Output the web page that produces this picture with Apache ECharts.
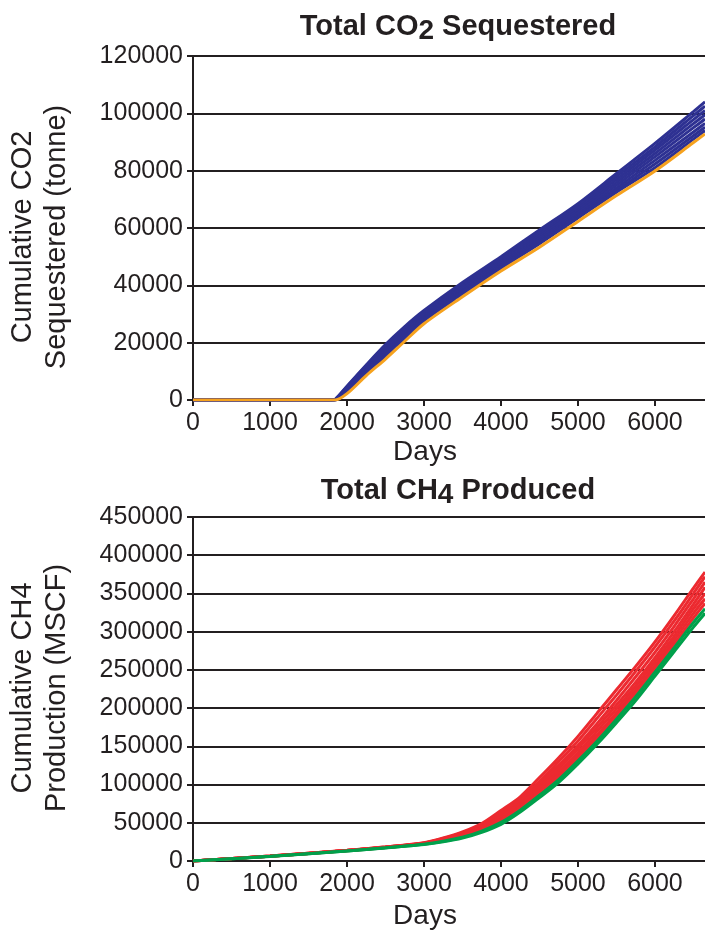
<!DOCTYPE html>
<html>
<head>
<meta charset="utf-8">
<script src="https://cdn.jsdelivr.net/npm/echarts@6/dist/echarts.min.js"></script>
<style>
  html, body { margin: 0; padding: 0; background: #ffffff; }
  #chart { width: 705px; height: 931px; }
</style>
</head>
<body>
<div id="chart"></div>
<script>
// ---- Cumulative CO2 sequestered (tonne) ----
const co2Days = [0, 1800, 1850, 2000, 2250, 2500, 2750, 3000, 3500, 4000, 4500, 5000, 5500, 6000, 6500, 6650];
const co2Run1 = [0, 0, 300, 4800, 12200, 19300, 25600, 31200, 41000, 50000, 59300, 68500, 79000, 89500, 100600, 104000];
const co2Run2 = [0, 0, 250, 4600, 11900, 18800, 25100, 30700, 40500, 49400, 58600, 67700, 78000, 88300, 99200, 102500];
const co2Run3 = [0, 0, 200, 4300, 11500, 18300, 24500, 30200, 39900, 48800, 57900, 66900, 77000, 87200, 97800, 101000];
const co2Run4 = [0, 0, 150, 4000, 11100, 17700, 23900, 29600, 39300, 48200, 57200, 66100, 76000, 86000, 96400, 99500];
const co2Run5 = [0, 0, 100, 3700, 10700, 17100, 23300, 29100, 38700, 47600, 56400, 65300, 75000, 84800, 95000, 98000];
const co2Run6 = [0, 0, 50, 3400, 10300, 16500, 22700, 28600, 38100, 47000, 55700, 64500, 74000, 83600, 93500, 96500];
const co2Run7 = [0, 0, 0, 3100, 9900, 15900, 22100, 28100, 37600, 46500, 55100, 64000, 73200, 82300, 92200, 95200];
const co2Run8 = [0, 0, 0, 2800, 9500, 15300, 21500, 27600, 37000, 46000, 54500, 63500, 72500, 81000, 91000, 94000];
const co2Base = [0, 0, 0, 2200, 8500, 14300, 20500, 26600, 36000, 45000, 53300, 62300, 71300, 79900, 89800, 92800];

// ---- Cumulative CH4 production (MSCF) ----
const ch4Days = [0, 1000, 2000, 2500, 3000, 3250, 3500, 3750, 4000, 4250, 4500, 4750, 5000, 5250, 5500, 5750, 6000, 6250, 6500, 6650];
const ch4Run1 = [0, 6500, 14000, 18500, 24000, 30000, 38000, 49000, 66000, 84000, 109000, 135000, 163000, 193500, 224000, 254600, 286600, 321000, 357000, 378000];
const ch4Run2 = [0, 6400, 13900, 18300, 23700, 29500, 37000, 47500, 63500, 81000, 104000, 130000, 157000, 187000, 217000, 248000, 280000, 314000, 350000, 372000];
const ch4Run3 = [0, 6400, 13800, 18100, 23400, 29000, 36000, 46000, 61000, 78500, 100000, 125000, 151000, 180000, 210000, 241000, 273000, 307000, 343000, 365000];
const ch4Run4 = [0, 6300, 13700, 18000, 23200, 28500, 35200, 45000, 59000, 76000, 97000, 121000, 147000, 175000, 204000, 234000, 266000, 300000, 336000, 358000];
const ch4Run5 = [0, 6300, 13600, 17800, 23000, 28000, 34400, 44000, 57500, 74000, 94500, 117000, 142000, 170000, 199000, 229000, 261000, 294000, 330000, 350000];
const ch4Run6 = [0, 6200, 13600, 17700, 22800, 27500, 33500, 42500, 55000, 71500, 91500, 113500, 138000, 165000, 194000, 224000, 256000, 289000, 324000, 343000];
const ch4Run7 = [0, 6200, 13500, 17500, 22500, 27000, 32500, 41000, 53000, 69000, 89000, 110000, 134000, 161000, 190000, 220000, 252000, 284000, 318000, 337000];
const ch4Base1 = [0, 6100, 13200, 17200, 22000, 25800, 31000, 39000, 50500, 66500, 86000, 106500, 131000, 157000, 185500, 215000, 247000, 279000, 312000, 330000];
const ch4Base2 = [0, 6000, 13000, 17000, 21500, 25000, 30000, 37500, 48000, 64000, 83000, 103000, 127000, 153000, 181000, 210000, 242000, 274000, 306000, 324000];

const co2Runs = [co2Run1, co2Run2, co2Run3, co2Run4, co2Run5, co2Run6, co2Run7, co2Run8];
const co2BaseRuns = [co2Base];
const ch4Runs = [ch4Run1, ch4Run2, ch4Run3, ch4Run4, ch4Run5, ch4Run6, ch4Run7];
const ch4BaseRuns = [ch4Base1, ch4Base2];

const INK = '#231f20';
const FONT = '"Liberation Sans", Arial, Helvetica, sans-serif';

function pairs(days, vals) { return days.map((d, i) => [d, vals[i]]); }

function lineSeries(days, vals, color, gridIdx) {
  return {
    type: 'line',
    xAxisIndex: gridIdx, yAxisIndex: gridIdx,
    data: pairs(days, vals),
    showSymbol: false,
    smooth: 0.3,
    lineStyle: { color: color, width: 3 },
    emphasis: { disabled: true },
    silent: true
  };
}

const plainNumber = v => String(v);

function xAxisOpt(gridIdx) {
  return {
    type: 'value', gridIndex: gridIdx,
    min: 0, max: 6650, interval: 1000,
    axisLine: { show: true, onZero: false, lineStyle: { color: INK, width: 2 } },
    axisTick: { show: true, inside: false, length: 6, lineStyle: { color: INK, width: 2 } },
    axisLabel: { color: INK, fontSize: 25, fontFamily: FONT, margin: 11, showMaxLabel: false, formatter: plainNumber },
    splitLine: { show: false }
  };
}

function yAxisOpt(gridIdx, max, interval) {
  return {
    type: 'value', gridIndex: gridIdx,
    min: 0, max: max, interval: interval,
    axisLine: { show: true, lineStyle: { color: INK, width: 2 } },
    axisTick: { show: true, inside: false, length: 6, lineStyle: { color: INK, width: 2 } },
    axisLabel: { color: INK, fontSize: 25, fontFamily: FONT, margin: 10, formatter: plainNumber },
    splitLine: { show: true, lineStyle: { color: INK, width: 2 } }
  };
}

const series = [];
co2Runs.forEach(r => series.push(lineSeries(co2Days, r, '#2e3192', 0)));
co2BaseRuns.forEach(r => series.push(lineSeries(co2Days, r, '#f6a21e', 0)));
ch4Runs.forEach(r => series.push(lineSeries(ch4Days, r, '#ec2a30', 1)));
ch4BaseRuns.forEach(r => series.push(lineSeries(ch4Days, r, '#00a04b', 1)));

function titleText(x, y, before, sub, after) {
  return {
    type: 'text', x: x, y: y, silent: true,
    style: {
      text: '{a|' + before + '}{s|' + sub + '}{a|' + after + '}',
      align: 'center', verticalAlign: 'middle',
      rich: {
        a: { fontFamily: FONT, fontWeight: 'bold', fontSize: 29, fill: INK },
        s: { fontFamily: FONT, fontWeight: 'bold', fontSize: 28, fill: INK, padding: [8, 0, 0, 0] }
      }
    }
  };
}

function plainText(x, y, text, size, rotate) {
  return {
    type: 'text', x: x, y: y, rotation: rotate ? Math.PI / 2 : 0, silent: true,
    style: {
      text: text, align: 'center', verticalAlign: 'middle',
      fontFamily: FONT, fontSize: size, fill: INK, lineHeight: 34
    }
  };
}

const option = {
  animation: false,
  backgroundColor: '#ffffff',
  grid: [
    { left: 193, top: 56, width: 512, height: 344 },
    { left: 193, top: 517, width: 512, height: 344 }
  ],
  xAxis: [xAxisOpt(0), xAxisOpt(1)],
  yAxis: [yAxisOpt(0, 120000, 20000), yAxisOpt(1, 450000, 50000)],
  series: series,
  graphic: [
    titleText(458, 27, 'Total CO', '2', ' Sequestered'),
    titleText(458, 491, 'Total CH', '4', ' Produced'),
    plainText(40, 237, 'Cumulative CO2\nSequestered (tonne)', 29, true),
    plainText(40, 688, 'Cumulative CH4\nProduction (MSCF)', 29, true),
    plainText(425, 452, 'Days', 28, false),
    plainText(425, 916, 'Days', 28, false)
  ]
};

const chart = echarts.init(document.getElementById('chart'), null, { renderer: 'canvas' });
chart.setOption(option);
</script>
</body>
</html>
